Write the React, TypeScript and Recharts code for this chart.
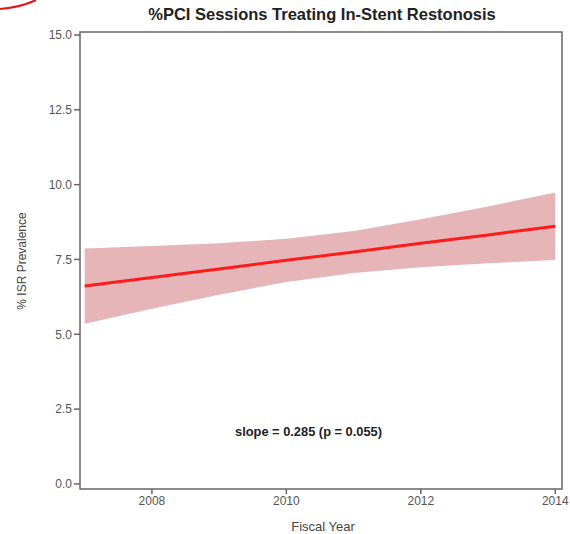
import React from 'react';
import { ComposedChart, Area, Line, XAxis, YAxis, ReferenceArea } from 'recharts';

const years = [2007, 2008, 2009, 2010, 2011, 2012, 2013, 2014];
const fitValues = [6.61, 6.9, 7.18, 7.47, 7.75, 8.04, 8.32, 8.61];
const upperValues = [7.87, 7.95, 8.04, 8.19, 8.45, 8.84, 9.27, 9.74];
const lowerValues = [5.35, 5.85, 6.32, 6.75, 7.05, 7.24, 7.37, 7.48];
const xTicks = [2008, 2010, 2012, 2014];
const yTicks = [0, 2.5, 5, 7.5, 10, 12.5, 15];

const X_DOMAIN: [number, number] = [2006.93, 2014.1];
const Y_DOMAIN: [number, number] = [-0.17, 15.1];

const data = years.map((year, i) => ({
  year,
  fit: fitValues[i],
  band: [lowerValues[i], upperValues[i]],
}));

const FONT = 'Liberation Sans, Arial, sans-serif';

const App: React.FC = () => {
  return (
    <div style={{ position: 'absolute', left: 0, top: 0, width: 570, height: 534, background: '#fff' }}>
      <ComposedChart width={570} height={534} data={data} margin={{ top: 32, right: 8, bottom: 15, left: 0 }}>
        <XAxis
          dataKey="year"
          type="number"
          domain={X_DOMAIN}
          ticks={xTicks}
          allowDataOverflow
          height={30}
          axisLine={false}
          tickSize={5}
          tickLine={{ stroke: '#666', strokeWidth: 1.5 }}
          tick={{ fill: '#555', fontSize: 12, fontFamily: FONT }}
        />
        <YAxis
          type="number"
          domain={Y_DOMAIN}
          ticks={yTicks}
          allowDataOverflow
          width={80}
          axisLine={false}
          tickSize={6}
          tickLine={{ stroke: '#666', strokeWidth: 1.5 }}
          tickFormatter={(v: number) => v.toFixed(1)}
          tick={{ fill: '#555', fontSize: 12, fontFamily: FONT }}
        />
        <Area
          dataKey="band"
          type="linear"
          fill="#e6b5b7"
          fillOpacity={1}
          stroke="none"
          isAnimationActive={false}
        />
        <Line
          dataKey="fit"
          type="linear"
          stroke="#ff1a1a"
          strokeWidth={3}
          dot={false}
          activeDot={false}
          isAnimationActive={false}
        />
        <ReferenceArea
          x1={X_DOMAIN[0]}
          x2={X_DOMAIN[1]}
          y1={Y_DOMAIN[0]}
          y2={Y_DOMAIN[1]}
          fill="none"
          stroke="#666"
          strokeWidth={1.5}
        />
      </ComposedChart>
      <svg width={570} height={534} style={{ position: 'absolute', left: 0, top: 0, pointerEvents: 'none' }}>
        <path d="M0,9 Q22,7 36,0" fill="none" stroke="#e8141a" strokeWidth={2.2} />
        <text x={322} y={20} textAnchor="middle" fontFamily={FONT} fontWeight="bold" fontSize={16.5} fill="#222">
          %PCI Sessions Treating In-Stent Restonosis
        </text>
        <text x={323} y={531} textAnchor="middle" fontFamily={FONT} fontSize={13} fill="#444">
          Fiscal Year
        </text>
        <text
          x={0}
          y={0}
          transform="translate(26,261) rotate(-90)"
          textAnchor="middle"
          fontFamily={FONT}
          fontSize={12}
          fill="#444"
        >
          % ISR Prevalence
        </text>
        <text
          x={235}
          y={436}
          textLength={147}
          lengthAdjust="spacingAndGlyphs"
          fontFamily={FONT}
          fontWeight="bold"
          fontSize={13}
          fill="#222"
        >
          slope = 0.285 (p = 0.055)
        </text>
      </svg>
    </div>
  );
};

export default App;
